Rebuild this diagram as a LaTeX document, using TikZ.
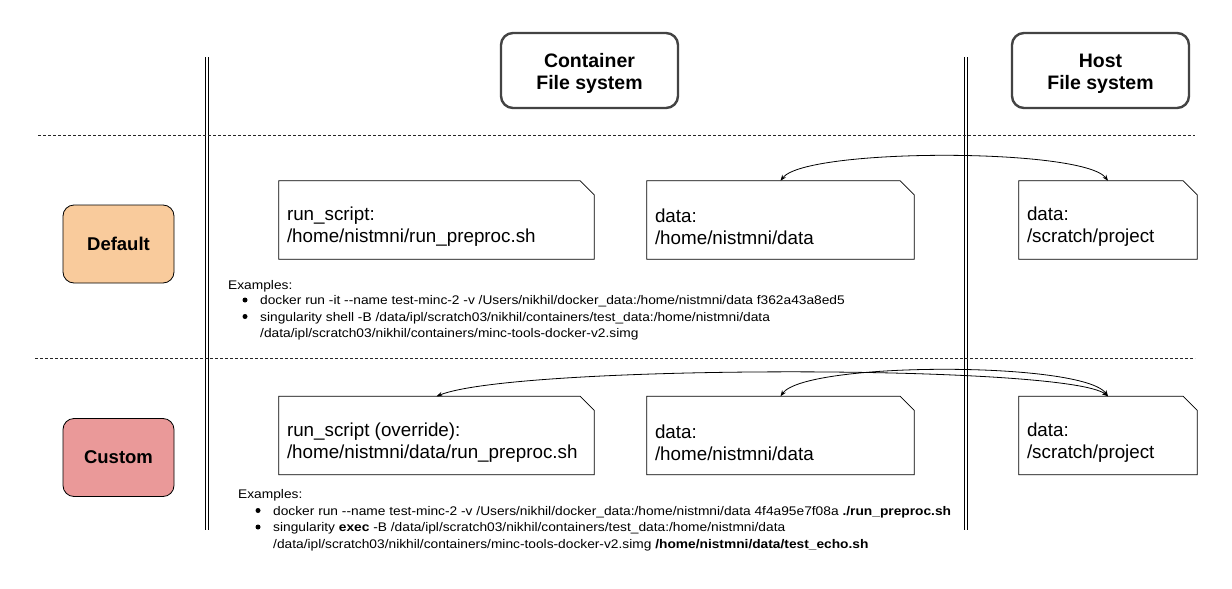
\documentclass[tikz,border=0pt]{standalone}
\usepackage{fontspec}
\setmainfont{Liberation Sans}[Ligatures=TeXOff]
\newfontfamily\exfont{Liberation Sans}[Ligatures=TeXOff, FakeStretch=1.10]
\usetikzlibrary{arrows.meta}
\definecolor{defaultfill}{HTML}{F9CB9C}
\definecolor{customfill}{HTML}{EA9999}
\definecolor{titleborder}{HTML}{434343}
\newcommand\notepath[1]{\draw[line width=0.8pt] (#1.south west) -- (#1.north west) -- ([xshift=-14pt]#1.north east) -- ([yshift=-14pt]#1.north east) -- (#1.south east) -- cycle;}
\begin{document}
\begin{tikzpicture}[x=1pt,y=-1pt,
 titlebox/.style={draw=titleborder, line width=2.4pt, rounded corners=12pt, minimum width=177pt, minimum height=75pt, inner sep=0pt},
 titletext/.style={align=center, font=\fontsize{19.5}{22}\selectfont\bfseries, inner sep=0pt},
 modebox/.style={draw=black, line width=0.8pt, rounded corners=11pt, minimum width=111pt, minimum height=78pt, font=\fontsize{18.5}{22}\selectfont\bfseries, inner sep=0pt},
 noteframe/.style={minimum height=78pt, inner sep=0pt},
 notetext/.style={anchor=west, align=left, font=\fontsize{18.8}{22}\selectfont, inner sep=0pt},
 sep/.style={line width=0.6pt, double, double distance=2.2pt},
 lane/.style={dash pattern=on 3pt off 2pt, line width=0.8pt, draw=black!85},
 link/.style={line width=0.8pt, {Stealth[length=6pt,width=4.5pt]}-{Stealth[length=6pt,width=4.5pt]}},
 extext/.style={anchor=base west, font=\exfont\fontsize{12.5}{14}\selectfont, inner sep=0pt},
 exbullet/.style={circle, fill=black, inner sep=0pt, minimum size=5pt},
]
\useasboundingbox (0,0) rectangle (1232,589);

% separators
\draw[sep] (207,57) -- (207,530);
\draw[sep] (966,57) -- (966,530);
\draw[lane] (38,135) -- (1195,135);
\draw[lane] (35,358) -- (1195,358);

% headers
\node[titlebox] (cfs) at (589.5,70.5) {};
\node[titletext] (cfst) at ([yshift=-3pt]cfs.center) {Container\\File system};
\node[titlebox] (hfs) at (1100.5,70.5) {};
\node[titletext] (hfst) at ([yshift=-3pt]hfs.center) {Host\\File system};

% modes
\node[modebox, fill=defaultfill] (default) at (118.5,244) {Default};
\node[modebox, fill=customfill] (custom) at (118.5,457.5) {Custom};

% default row notes
\node[noteframe, minimum width=315pt] (d1) at (436.5,220) {};
\node[noteframe, minimum width=267pt] (d2) at (780.5,220) {};
\node[noteframe, minimum width=178pt] (d3) at (1108,220) {};
\notepath{d1}\notepath{d2}\notepath{d3}
\node[notetext] (d1t) at ([xshift=8pt,yshift=-7pt]d1.west) {run\_script:\\/home/nistmni/run\_preproc.sh};
\node[notetext] (d2t) at ([xshift=8pt,yshift=-7pt]d2.west) {data:\\/home/nistmni/data};
\node[notetext] (d3t) at ([xshift=8pt,yshift=-7pt]d3.west) {data:\\/scratch/project};

% custom row notes
\node[noteframe, minimum width=315pt] (c1) at (436.5,435.5) {};
\node[noteframe, minimum width=267pt] (c2) at (780.5,435.5) {};
\node[noteframe, minimum width=178pt] (c3) at (1108,435.5) {};
\notepath{c1}\notepath{c2}\notepath{c3}
\node[notetext] (c1t) at ([xshift=8pt,yshift=-7pt]c1.west) {run\_script (override):\\/home/nistmni/data/run\_preproc.sh};
\node[notetext] (c2t) at ([xshift=8pt,yshift=-7pt]c2.west) {data:\\/home/nistmni/data};
\node[notetext] (c3t) at ([xshift=8pt,yshift=-7pt]c3.west) {data:\\/scratch/project};

% links
\draw[link] (d2.north) .. controls ([xshift=25pt,yshift=33pt]d2.north) and ([xshift=-25pt,yshift=33pt]d3.north) .. (d3.north);
\draw[link] (c1.north) .. controls ([xshift=80pt,yshift=32pt]c1.north) and ([xshift=-40pt,yshift=32pt]c3.north) .. (c3.north);
\draw[link] (c2.north) .. controls ([xshift=25pt,yshift=35pt]c2.north) and ([xshift=-25pt,yshift=35pt]c3.north) .. (c3.north);

% default examples
\node[extext] (exa) at (228,289) {Examples:};
\node[exbullet] (exa1b) at (245,300) {};
\node[extext] (exa1) at (260,304.5) {docker run -it --name test-minc-2 -v /Users/nikhil/docker\_data:/home/nistmni/data f362a43a8ed5};
\node[exbullet] (exa2b) at (245,316.5) {};
\node[extext] (exa2) at (260,321) {singularity shell -B /data/ipl/scratch03/nikhil/containers/test\_data:/home/nistmni/data};
\node[extext] (exa3) at (260,337.5) {/data/ipl/scratch03/nikhil/containers/minc-tools-docker-v2.simg};

% custom examples
\node[extext] (exb) at (238,498) {Examples:};
\node[exbullet] (exb1b) at (258,510.5) {};
\node[extext] (exb1) at (273,515) {docker run --name test-minc-2 -v /Users/nikhil/docker\_data:/home/nistmni/data 4f4a95e7f08a \textbf{./run\_preproc.sh}};
\node[exbullet] (exb2b) at (258,527) {};
\node[extext] (exb2) at (273,531.5) {singularity \textbf{exec} -B /data/ipl/scratch03/nikhil/containers/test\_data:/home/nistmni/data};
\node[extext] (exb3) at (273,548) {/data/ipl/scratch03/nikhil/containers/minc-tools-docker-v2.simg \textbf{/home/nistmni/data/test\_echo.sh}};
\end{tikzpicture}
\end{document}
